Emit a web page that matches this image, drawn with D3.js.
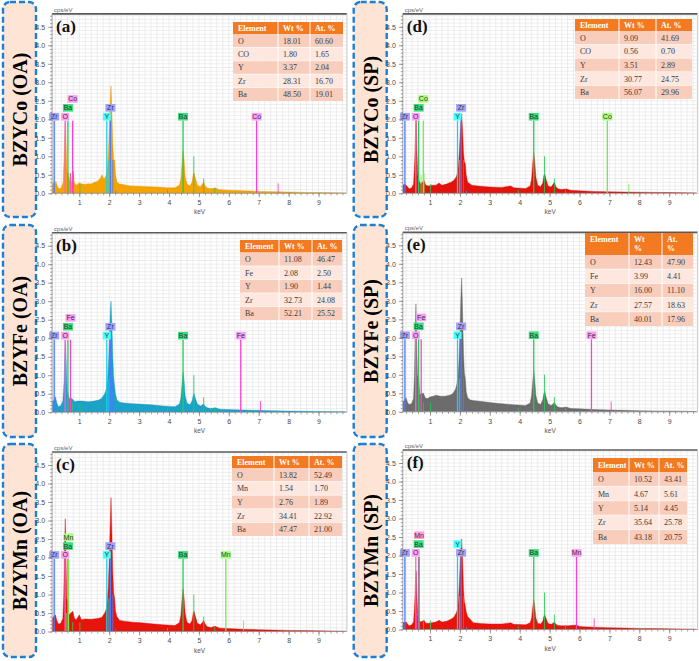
<!DOCTYPE html>
<html>
<head>
<meta charset="utf-8">
<script src="https://cdn.jsdelivr.net/npm/d3@7"></script>
<style>
  body { margin: 0; background: #fff; }
  svg { display: block; }
</style>
</head>
<body>
<svg id="chart" width="699" height="661"></svg>
<script>
// ---- data ----
const panelIds = ["a", "b", "c", "d", "e", "f"];
const sampleNames = ["BZYCo (OA)", "BZYFe (OA)", "BZYMn (OA)", "BZYCo (SP)", "BZYFe (SP)", "BZYMn (SP)"];
const yTicks = [0, 0.5, 1, 1.5, 2, 2.5, 3, 3.5, 4, 4.5];
const xTicks = [1, 2, 3, 4, 5, 6, 7, 8, 9];
const tableHeader = ["Element", "Wt %", "At. %"];

// spectra: [keV, cps/eV]
const spectrumA = [[0.1,0.22],[0.14,0.3],[0.18,0.25],[0.22,0.32],[0.27,0.18],[0.33,0.12],[0.4,0.15],[0.46,0.3],[0.49,0.9],[0.52,1.7],[0.54,1.95],[0.56,1.3],[0.59,0.55],[0.63,0.55],[0.67,0.28],[0.7,0.55],[0.73,0.22],[0.79,0.6],[0.83,0.3],[0.9,0.22],[1.0,0.28],[1.1,0.25],[1.2,0.24],[1.3,0.26],[1.4,0.25],[1.5,0.3],[1.6,0.32],[1.7,0.4],[1.76,0.5],[1.82,0.38],[1.88,0.45],[1.92,0.55],[1.95,0.8],[1.98,1.2],[2.01,1.9],[2.04,2.6],[2.06,2.9],[2.09,2.2],[2.12,1.3],[2.15,0.9],[2.18,0.9],[2.21,0.5],[2.26,0.3],[2.35,0.25],[2.5,0.23],[2.7,0.2],[3.0,0.19],[3.3,0.18],[3.6,0.17],[3.9,0.15],[4.2,0.15],[4.35,0.22],[4.4,0.4],[4.44,0.85],[4.47,1.15],[4.5,0.95],[4.54,0.45],[4.6,0.25],[4.7,0.2],[4.77,0.3],[4.81,0.5],[4.84,0.55],[4.88,0.42],[4.95,0.22],[5.05,0.18],[5.12,0.25],[5.16,0.3],[5.21,0.2],[5.28,0.14],[5.4,0.12],[5.55,0.15],[5.65,0.1],[6.0,0.08],[6.5,0.07],[7.0,0.05],[7.5,0.045],[8.0,0.035],[8.5,0.025],[9.0,0.02],[9.5,0.015],[9.9,0.01]];
const spectrumB = [[0.1,0.3],[0.14,0.3],[0.2,0.42],[0.25,0.25],[0.3,0.15],[0.38,0.18],[0.45,0.3],[0.49,0.8],[0.52,1.7],[0.54,1.95],[0.56,1.4],[0.59,0.65],[0.63,0.45],[0.68,0.35],[0.72,0.38],[0.78,0.35],[0.85,0.28],[0.95,0.3],[1.1,0.3],[1.3,0.28],[1.5,0.3],[1.65,0.33],[1.75,0.38],[1.85,0.5],[1.91,0.65],[1.95,0.95],[1.98,1.4],[2.01,2.1],[2.04,2.75],[2.06,3.0],[2.09,2.4],[2.12,1.5],[2.15,0.95],[2.18,0.7],[2.21,0.5],[2.26,0.33],[2.35,0.27],[2.5,0.25],[2.8,0.23],[3.0,0.22],[3.4,0.2],[3.8,0.17],[4.2,0.15],[4.35,0.22],[4.4,0.4],[4.44,0.8],[4.47,1.08],[4.5,0.9],[4.54,0.45],[4.6,0.25],[4.7,0.2],[4.77,0.3],[4.81,0.45],[4.84,0.5],[4.88,0.38],[4.95,0.22],[5.05,0.17],[5.12,0.2],[5.16,0.22],[5.21,0.16],[5.28,0.12],[5.4,0.1],[5.55,0.12],[5.7,0.08],[6.0,0.07],[6.5,0.06],[7.0,0.05],[7.5,0.04],[8.0,0.03],[8.5,0.025],[9.0,0.02],[9.5,0.015],[9.9,0.01]];
const spectrumC = [[0.1,0.35],[0.14,0.4],[0.2,0.45],[0.25,0.3],[0.3,0.2],[0.38,0.22],[0.45,0.35],[0.48,1.0],[0.51,2.4],[0.53,3.05],[0.55,2.2],[0.58,0.9],[0.62,0.75],[0.66,0.45],[0.72,0.5],[0.78,0.55],[0.84,0.35],[0.9,0.32],[1.0,0.45],[1.07,0.32],[1.2,0.34],[1.4,0.33],[1.6,0.35],[1.75,0.38],[1.85,0.5],[1.9,0.6],[1.94,0.85],[1.97,1.2],[2.0,1.9],[2.03,2.8],[2.06,3.62],[2.09,2.7],[2.12,1.6],[2.15,1.05],[2.18,0.9],[2.21,0.55],[2.26,0.4],[2.35,0.3],[2.5,0.28],[2.8,0.25],[3.0,0.24],[3.4,0.21],[3.8,0.18],[4.2,0.16],[4.35,0.24],[4.4,0.45],[4.44,0.9],[4.47,1.15],[4.5,0.95],[4.54,0.5],[4.6,0.25],[4.7,0.2],[4.77,0.3],[4.81,0.5],[4.84,0.55],[4.88,0.42],[4.95,0.22],[5.05,0.18],[5.12,0.25],[5.16,0.3],[5.21,0.2],[5.28,0.13],[5.4,0.11],[5.55,0.14],[5.7,0.09],[6.0,0.08],[6.5,0.06],[7.0,0.05],[7.5,0.04],[8.0,0.03],[8.5,0.025],[9.0,0.02],[9.5,0.015],[9.9,0.01]];
const spectrumD = [[0.1,0.22],[0.14,0.25],[0.2,0.22],[0.25,0.18],[0.3,0.12],[0.38,0.14],[0.45,0.25],[0.49,0.9],[0.52,1.75],[0.54,1.98],[0.56,1.2],[0.59,0.5],[0.63,0.35],[0.68,0.25],[0.74,0.3],[0.8,0.35],[0.86,0.22],[0.95,0.2],[1.05,0.22],[1.2,0.22],[1.3,0.28],[1.4,0.22],[1.55,0.25],[1.7,0.3],[1.8,0.35],[1.88,0.45],[1.92,0.55],[1.95,0.75],[1.98,1.1],[2.01,1.6],[2.04,2.0],[2.06,2.15],[2.09,1.7],[2.12,1.1],[2.15,0.85],[2.18,0.8],[2.21,0.5],[2.26,0.3],[2.4,0.22],[2.6,0.2],[3.0,0.17],[3.4,0.16],[3.7,0.2],[3.8,0.15],[4.2,0.13],[4.35,0.2],[4.4,0.4],[4.44,0.85],[4.47,1.1],[4.5,0.9],[4.54,0.45],[4.6,0.22],[4.7,0.18],[4.77,0.28],[4.81,0.48],[4.84,0.52],[4.88,0.38],[4.95,0.2],[5.05,0.17],[5.12,0.25],[5.16,0.3],[5.21,0.18],[5.28,0.12],[5.4,0.1],[5.55,0.12],[5.7,0.08],[6.0,0.07],[6.5,0.05],[7.0,0.04],[7.5,0.035],[8.0,0.03],[8.5,0.025],[9.0,0.02],[9.5,0.015],[9.9,0.01]];
const spectrumE = [[0.1,0.28],[0.14,0.3],[0.2,0.38],[0.25,0.25],[0.3,0.2],[0.38,0.22],[0.45,0.35],[0.48,1.0],[0.51,2.3],[0.53,2.92],[0.55,2.1],[0.58,1.0],[0.62,0.9],[0.66,0.45],[0.72,0.5],[0.78,0.5],[0.84,0.38],[0.9,0.35],[1.0,0.4],[1.1,0.42],[1.2,0.45],[1.35,0.42],[1.5,0.42],[1.65,0.45],[1.75,0.48],[1.85,0.6],[1.9,0.75],[1.94,1.0],[1.97,1.4],[2.0,2.1],[2.03,3.0],[2.06,3.62],[2.09,2.7],[2.12,1.6],[2.15,1.05],[2.18,0.9],[2.21,0.55],[2.26,0.38],[2.35,0.32],[2.5,0.3],[2.8,0.27],[3.0,0.25],[3.4,0.22],[3.8,0.19],[4.2,0.17],[4.35,0.24],[4.4,0.45],[4.44,0.85],[4.47,1.1],[4.5,0.9],[4.54,0.45],[4.6,0.24],[4.7,0.2],[4.77,0.32],[4.81,0.5],[4.84,0.55],[4.88,0.4],[4.95,0.22],[5.05,0.17],[5.12,0.22],[5.16,0.25],[5.21,0.18],[5.28,0.13],[5.4,0.11],[5.55,0.13],[5.7,0.09],[6.0,0.08],[6.5,0.06],[7.0,0.05],[7.5,0.04],[8.0,0.03],[8.5,0.025],[9.0,0.02],[9.5,0.015],[9.9,0.01]];
const spectrumF = [[0.1,0.18],[0.14,0.2],[0.2,0.2],[0.25,0.15],[0.3,0.1],[0.38,0.12],[0.45,0.2],[0.49,0.75],[0.52,1.4],[0.54,1.58],[0.56,1.0],[0.59,0.38],[0.63,0.28],[0.68,0.2],[0.74,0.22],[0.8,0.25],[0.86,0.17],[0.95,0.17],[1.05,0.18],[1.2,0.2],[1.3,0.25],[1.4,0.2],[1.55,0.22],[1.7,0.28],[1.8,0.33],[1.88,0.45],[1.92,0.55],[1.95,0.8],[1.98,1.2],[2.01,1.8],[2.04,2.3],[2.06,2.45],[2.09,1.9],[2.12,1.1],[2.15,0.75],[2.18,0.65],[2.21,0.48],[2.26,0.35],[2.32,0.3],[2.45,0.18],[2.7,0.16],[3.0,0.15],[3.4,0.15],[3.7,0.18],[3.8,0.14],[4.2,0.13],[4.35,0.18],[4.4,0.32],[4.44,0.62],[4.47,0.8],[4.5,0.65],[4.54,0.32],[4.6,0.17],[4.7,0.15],[4.77,0.22],[4.81,0.36],[4.84,0.4],[4.88,0.3],[4.95,0.16],[5.05,0.14],[5.12,0.17],[5.16,0.2],[5.21,0.14],[5.28,0.11],[5.4,0.1],[5.6,0.1],[5.9,0.12],[6.0,0.08],[6.5,0.06],[7.0,0.05],[7.5,0.04],[8.0,0.03],[8.5,0.025],[9.0,0.02],[9.5,0.015],[9.9,0.01]];

// labelled lines: [element, keV]
const peaksA = [["Zr",0.16],["O",0.525],["Ba",0.62],["Co",0.776],["Y",1.92],["Zr",2.04],["Ba",4.47],["Co",6.93]];
const peaksB = [["Zr",0.16],["O",0.525],["Ba",0.62],["Fe",0.705],["Y",1.92],["Zr",2.04],["Ba",4.47],["Fe",6.40]];
const peaksC = [["Zr",0.16],["O",0.525],["Ba",0.62],["Mn",0.637],["Y",1.92],["Zr",2.04],["Ba",4.47],["Mn",5.90]];
const peaksD = peaksA;
const peaksE = peaksB;
const peaksF = [["Zr",0.16],["O",0.525],["Ba",0.62],["Mn",0.637],["Y",1.92],["Zr",2.04],["Ba",4.47],["Mn",5.90]];

// unlabelled satellite lines: [element, keV, cps/eV]
const minorA = [["Co",0.70,0.55],["Co",0.80,0.6],["Ba",0.78,0.25],["Ba",1.02,0.25],["Y",1.99,0.9],["Zr",2.12,0.9],["Zr",2.22,0.07],["Ba",4.83,1.0],["Ba",5.16,0.4],["Ba",5.53,0.12],["Ba",3.95,0.1],["Co",7.65,0.27]];
const minorB = [["Fe",0.63,0.5],["Ba",0.78,0.25],["Ba",1.02,0.25],["Y",1.99,0.9],["Zr",2.12,0.9],["Zr",2.22,0.07],["Ba",4.83,1.0],["Ba",5.16,0.4],["Ba",5.53,0.12],["Ba",3.95,0.1],["Fe",7.06,0.3]];
const minorC = [["Mn",0.56,0.5],["Ba",0.78,0.25],["Ba",1.02,0.25],["Y",1.99,0.9],["Zr",2.12,1.0],["Zr",2.22,0.07],["Ba",4.83,1.0],["Ba",5.16,0.4],["Ba",5.53,0.12],["Ba",3.95,0.1],["Mn",6.49,0.3]];
const minorD = [["Co",0.70,0.5],["Co",0.80,0.55],["Ba",0.78,0.25],["Ba",1.02,0.25],["Y",1.99,0.9],["Zr",2.12,0.9],["Zr",2.22,0.07],["Ba",4.83,1.0],["Ba",5.16,0.4],["Ba",5.53,0.12],["Ba",3.95,0.1],["Co",7.65,0.25]];
const minorE = [["Fe",0.63,0.5],["Ba",0.78,0.25],["Ba",1.02,0.25],["Y",1.99,0.9],["Zr",2.12,0.9],["Zr",2.22,0.07],["Ba",4.83,1.0],["Ba",5.16,0.4],["Ba",5.53,0.12],["Ba",3.95,0.1],["Fe",7.06,0.28]];
const minorF = [["Mn",0.56,0.45],["Ba",0.78,0.25],["Ba",1.02,0.25],["Y",1.99,0.9],["Zr",2.12,0.9],["Zr",2.22,0.07],["Ba",4.83,1.0],["Ba",5.16,0.4],["Ba",5.53,0.12],["Ba",3.95,0.1],["Mn",6.49,0.3]];

// composition tables: [element, Wt %, At. %]
const tableA = [["O","18.01","60.60"],["CO","1.80","1.65"],["Y","3.37","2.04"],["Zr","28.31","16.70"],["Ba","48.50","19.01"]];
const tableB = [["O","11.08","46.47"],["Fe","2.08","2.50"],["Y","1.90","1.44"],["Zr","32.73","24.08"],["Ba","52.21","25.52"]];
const tableC = [["O","13.82","52.49"],["Mn","1.54","1.70"],["Y","2.76","1.89"],["Zr","34.41","22.92"],["Ba","47.47","21.00"]];
const tableD = [["O","9.09","41.69"],["CO","0.56","0.70"],["Y","3.51","2.89"],["Zr","30.77","24.75"],["Ba","56.07","29.96"]];
const tableE = [["O","12.43","47.90"],["Fe","3.99","4.41"],["Y","16.00","11.10"],["Zr","27.57","18.63"],["Ba","40.01","17.96"]];
const tableF = [["O","10.52","43.41"],["Mn","4.67","5.61"],["Y","5.14","4.45"],["Zr","35.64","25.78"],["Ba","43.18","20.75"]];

// ---- layout and styles ----
const spectra = [spectrumA, spectrumB, spectrumC, spectrumD, spectrumE, spectrumF];
const peaks = [peaksA, peaksB, peaksC, peaksD, peaksE, peaksF];
const minors = [minorA, minorB, minorC, minorD, minorE, minorF];
const tables = [tableA, tableB, tableC, tableD, tableE, tableF];
const fills = ["#f5a300", "#1aa2c9", "#e8140c", "#e3130b", "#6c6c6c", "#e8140c"];
const labelLevels = [
  [0,0,1,2,0,1,0,0], [0,0,1,2,0,1,0,0], [0,0,1,2,0,1,0,0],
  [0,0,1,2,0,1,0,0], [0,0,1,2,0,1,0,0], [0,0,1,2,1,0,0,0]
];
const levelValue = [2.07, 2.31, 2.55];
const pinkEl = { line: "#ff3fcf", box: "#ff9cf5" };
const greenEl = { line: "#74ea4c", box: "#a8ff7a" };
const baseColors = {
  Zr: { line: "#4a7cff", box: "#a0a2ff" },
  O:  { line: "#ff5fd8", box: "#ff9cf5" },
  Ba: { line: "#22cc55", box: "#36e07c" },
  Y:  { line: "#1fd0df", box: "#45ffff" }
};
const dopantColors = [
  { Co: pinkEl }, { Fe: pinkEl }, { Mn: greenEl },
  { Co: greenEl }, { Fe: pinkEl }, { Mn: pinkEl }
];
const colX = [0, 350.7];
const zeros = [193.3, 412.2, 631.5, 193.3, 411.8, 629.5];
const boxRows = [[2, 217], [225, 437], [444, 657]];
const tableLayout = [
  { x: 233, y: 22,  w: [45, 32, 33], hh: 12,   rh: 13.4 },
  { x: 240, y: 240, w: [39, 33, 30], hh: 12.5, rh: 13.5 },
  { x: 232, y: 456, w: [42, 35, 33], hh: 12,   rh: 13.6 },
  { x: 575, y: 19,  w: [44, 37, 36], hh: 12,   rh: 13.6 },
  { x: 585, y: 233, w: [44, 33, 31], hh: 22,   rh: 14.2, wrap: true },
  { x: 593, y: 458, w: [36, 30, 28], hh: 14,   rh: 14.4 }
];
const KEV_PX = 29.9, CPS_PX = 37, X_ZERO = 49.4;
const X_MIN = 0.09, X_MAX = 9.95, Y_MAX = 4.85;
const SERIF = "'Liberation Serif', 'Times New Roman', serif";
const SANS = "'Liberation Sans', Arial, sans-serif";

const svg = d3.select("#chart");
const defs = svg.append("defs");

panelIds.forEach((id, i) => {
  const col = Math.floor(i / 3), row = i % 3;
  const ox = colX[col];
  const zero = zeros[i];
  const x = d3.scaleLinear()
    .domain([X_MIN, X_MAX])
    .range([ox + X_ZERO + X_MIN * KEV_PX, ox + X_ZERO + X_MAX * KEV_PX]);
  const y = d3.scaleLinear()
    .domain([0, Y_MAX])
    .range([zero, zero - Y_MAX * CPS_PX]);
  const [px0, px1] = x.range();
  const [py0, py1] = y.range();
  const colors = Object.assign({}, baseColors, dopantColors[i]);

  const g = svg.append("g").attr("class", "panel-" + id);

  // sample name box
  const [by0, by1] = boxRows[row];
  const bx = ox + 3;
  g.append("rect")
    .attr("x", bx).attr("y", by0)
    .attr("width", 33).attr("height", by1 - by0)
    .attr("rx", 7).attr("ry", 7)
    .attr("fill", "#fde4d5")
    .attr("stroke", "#1c7fd4")
    .attr("stroke-width", 2.4)
    .attr("stroke-dasharray", "6,3");
  g.append("text")
    .attr("transform", `translate(${bx + 24},${(by0 + by1) / 2}) rotate(-90)`)
    .attr("text-anchor", "middle")
    .attr("font-family", SERIF)
    .attr("font-weight", "bold")
    .attr("font-size", 20)
    .attr("fill", "#000")
    .text(sampleNames[i]);

  // grid
  defs.append("clipPath").attr("id", "clip-" + id)
    .append("rect")
    .attr("x", px0).attr("y", py1)
    .attr("width", px1 - px0).attr("height", py0 - py1);

  const grid = g.append("g").attr("stroke", "#e3e3e3").attr("stroke-width", 0.6);
  grid.selectAll("line.v")
    .data(d3.range(0.2, 9.95, 0.2))
    .join("line")
    .attr("x1", d => x(d)).attr("x2", d => x(d))
    .attr("y1", py0).attr("y2", py1);
  grid.selectAll("line.h")
    .data(d3.range(0.1, Y_MAX, 0.1))
    .join("line")
    .attr("x1", px0).attr("x2", px1)
    .attr("y1", d => y(d)).attr("y2", d => y(d));

  // spectrum
  const area = d3.area()
    .x(d => x(d[0]))
    .y0(y(0))
    .y1(d => y(d[1]));
  g.append("path")
    .datum(spectra[i])
    .attr("clip-path", `url(#clip-${id})`)
    .attr("d", area)
    .attr("fill", fills[i])
    .attr("stroke", d3.color(fills[i]).darker(0.3))
    .attr("stroke-width", 0.4);

  // satellite lines
  g.append("g").selectAll("line")
    .data(minors[i])
    .join("line")
    .attr("x1", d => x(d[1])).attr("x2", d => x(d[1]))
    .attr("y1", y(0)).attr("y2", d => y(d[2]))
    .attr("stroke", d => colors[d[0]].line)
    .attr("stroke-width", 1)
    .attr("opacity", 0.85);

  // labelled lines
  const lv = labelLevels[i];
  g.append("g").selectAll("line")
    .data(peaks[i])
    .join("line")
    .attr("x1", d => x(d[1])).attr("x2", d => x(d[1]))
    .attr("y1", y(0)).attr("y2", y(1.96))
    .attr("stroke", d => colors[d[0]].line)
    .attr("stroke-width", 1.3);

  const tags = g.append("g").selectAll("g")
    .data(peaks[i])
    .join("g")
    .attr("transform", (d, k) => `translate(${x(d[1])},${y(levelValue[lv[k]])})`);
  tags.append("rect")
    .attr("x", d => -(d[0].length > 1 ? 5 : 4))
    .attr("y", -3.8)
    .attr("width", d => d[0].length > 1 ? 10 : 8)
    .attr("height", 7.6)
    .attr("fill", d => colors[d[0]].box);
  tags.append("text")
    .attr("text-anchor", "middle")
    .attr("y", 2.5)
    .attr("font-family", SANS)
    .attr("font-size", 7)
    .attr("fill", "#333")
    .text(d => d[0]);

  // frame and axes
  g.append("line")
    .attr("x1", px0).attr("x2", px1).attr("y1", py1).attr("y2", py1)
    .attr("stroke", "#5a5a5a").attr("stroke-width", 1.6);
  g.append("line")
    .attr("x1", px1).attr("x2", px1).attr("y1", py1).attr("y2", py0)
    .attr("stroke", "#c8c8c8").attr("stroke-width", 1);
  g.append("line")
    .attr("x1", px0).attr("x2", px0).attr("y1", py1).attr("y2", py0)
    .attr("stroke", "#8a8a8a").attr("stroke-width", 0.8);
  g.append("line")
    .attr("x1", px0).attr("x2", px1).attr("y1", py0).attr("y2", py0)
    .attr("stroke", "#8a8a8a").attr("stroke-width", 0.8);

  const yMinor = d3.axisLeft(y).tickValues(d3.range(0, Y_MAX, 0.1)).tickSize(2).tickFormat("");
  const yMajor = d3.axisLeft(y).tickValues(yTicks).tickSize(4).tickFormat(d3.format(".1f"));
  const xMinor = d3.axisBottom(x).tickValues(d3.range(0.2, 9.95, 0.2)).tickSize(2).tickFormat("");
  const xMajor = d3.axisBottom(x).tickValues(xTicks).tickSize(4).tickPadding(3);

  [[yMinor, `translate(${px0},0)`], [yMajor, `translate(${px0},0)`],
   [xMinor, `translate(0,${py0})`], [xMajor, `translate(0,${py0})`]].forEach(([ax, tr]) => {
    const a = g.append("g").attr("transform", tr).call(ax);
    a.select(".domain").remove();
    a.selectAll("line").attr("stroke", "#777").attr("stroke-width", 0.7);
    a.selectAll("text")
      .attr("font-family", SANS)
      .attr("font-size", 7)
      .attr("fill", "#4a4a4a");
  });

  g.append("text")
    .attr("x", px0 + 2).attr("y", py1 - 2)
    .attr("font-family", SANS).attr("font-size", 6)
    .attr("fill", "#666")
    .text("cps/eV");
  g.append("text")
    .attr("x", (px0 + px1) / 2).attr("y", py0 + 21)
    .attr("text-anchor", "middle")
    .attr("font-family", SANS).attr("font-size", 6.5)
    .attr("fill", "#555")
    .text("keV");

  g.append("text")
    .attr("x", px0 + 4).attr("y", py1 + 18)
    .attr("font-family", SERIF).attr("font-weight", "bold")
    .attr("font-size", 17).attr("fill", "#111")
    .text(`(${id})`);

  // composition table
  const tl = tableLayout[i];
  const cx = [tl.x, tl.x + tl.w[0], tl.x + tl.w[0] + tl.w[1]];
  const tw = d3.sum(tl.w);
  const tg = g.append("g");
  tg.append("rect")
    .attr("x", tl.x).attr("y", tl.y).attr("width", tw).attr("height", tl.hh)
    .attr("fill", "#f47a22");
  tableHeader.forEach((h, k) => {
    const t = tg.append("text")
      .attr("x", cx[k] + 5)
      .attr("y", tl.y + (tl.wrap ? 9 : tl.hh / 2 + 3))
      .attr("font-family", SERIF).attr("font-weight", "bold")
      .attr("font-size", 8).attr("fill", "#fff");
    if (tl.wrap && k > 0) {
      h.split(" ").forEach((part, j) => {
        t.append("tspan").attr("x", cx[k] + 5).attr("dy", j ? 9 : 0).text(part);
      });
    } else {
      t.text(h);
    }
  });
  const rows = tg.selectAll("g.row")
    .data(tables[i])
    .join("g")
    .attr("transform", (d, r) => `translate(0,${tl.y + tl.hh + r * tl.rh})`);
  rows.append("rect")
    .attr("x", tl.x).attr("width", tw).attr("height", tl.rh)
    .attr("fill", (d, r) => r % 2 ? "#fde7de" : "#f9cdbb");
  rows.selectAll("text")
    .data(d => d)
    .join("text")
    .attr("x", (d, k) => cx[k] + 5)
    .attr("y", tl.rh / 2 + 3)
    .attr("font-family", SERIF).attr("font-size", 8)
    .attr("fill", "#3a3a3a")
    .text(d => d);
  // white cell borders
  tg.selectAll("line.vcol")
    .data([cx[1], cx[2]])
    .join("line")
    .attr("x1", d => d).attr("x2", d => d)
    .attr("y1", tl.y).attr("y2", tl.y + tl.hh + 5 * tl.rh)
    .attr("stroke", "#fff").attr("stroke-width", 1);
  tg.selectAll("line.hrow")
    .data(d3.range(1, 5))
    .join("line")
    .attr("x1", tl.x).attr("x2", tl.x + tw)
    .attr("y1", r => tl.y + tl.hh + r * tl.rh)
    .attr("y2", r => tl.y + tl.hh + r * tl.rh)
    .attr("stroke", "#fff").attr("stroke-width", 0.6);
});
</script>
</body>
</html>
